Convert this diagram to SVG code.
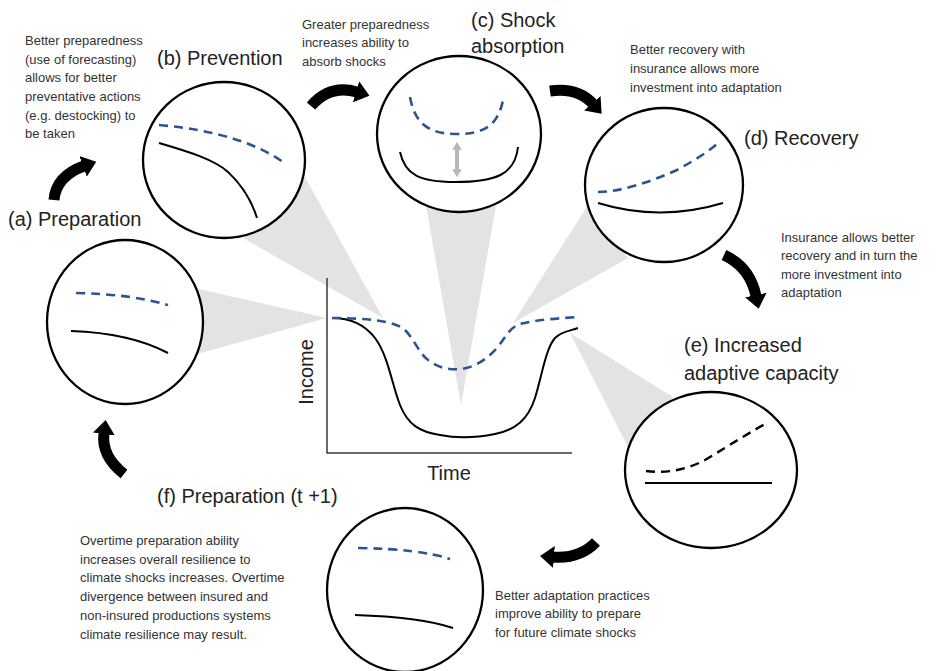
<svg xmlns="http://www.w3.org/2000/svg" width="938" height="671" viewBox="0 0 938 671">
<defs>
<style>
.bg{fill:#ffffff}
.wedge{fill:#e3e3e3;stroke:none}
.circ{fill:#ffffff;stroke:#000;stroke-width:2.3}
.solid{fill:none;stroke:#000;stroke-width:2}
.dash{fill:none;stroke:#2a5592;stroke-width:2.6;stroke-dasharray:9 6}
.dashk{fill:none;stroke:#000;stroke-width:2.4;stroke-dasharray:9 6}
.axis{fill:none;stroke:#3a3a3a;stroke-width:1.5}
.cflow{fill:none;stroke:#000;stroke-width:11;marker-end:url(#head)}
.title{font-family:"Liberation Sans",Arial,sans-serif;fill:#222;font-size:20px}
.desc{font-family:"Liberation Sans",Arial,sans-serif;fill:#333;font-size:13px}
</style>
<marker id="head" viewBox="0 0 14 22" markerUnits="userSpaceOnUse" markerWidth="14" markerHeight="22" refX="1" refY="11" orient="auto">
<path d="M0,0 L14,11 L0,22 z" fill="#000"/>
</marker>
<marker id="ghead" viewBox="0 0 10 12" markerUnits="userSpaceOnUse" markerWidth="8" markerHeight="10" refX="1" refY="6" orient="auto-start-reverse">
<path d="M0,0 L10,6 L0,12 z" fill="#b8b8b8"/>
</marker>
</defs>
<rect class="bg" x="0" y="0" width="938" height="671"/>

<g id="wedges">
<polygon class="wedge" points="190,287 327,318 190,356"/>
<polygon class="wedge" points="305,177 383,318 243,238"/>
<polygon class="wedge" points="425,200 497,200 461,405"/>
<polygon class="wedge" points="588,205 628,258 513,323"/>
<polygon class="wedge" points="570,333 673,397 628,447"/>
</g>

<g id="chart">
<path class="axis" d="M327,278 L327,453 L572,453"/>
<path class="solid" d="M332,318 C350,318 365,325 375,338 C388,355 392,385 400,405 C408,425 420,432 440,435 C455,438 475,438 495,434 C515,430 528,420 535,398 C542,375 546,348 555,338 C562,331 570,331 578,328"/>
<path class="dash" d="M332,318 C360,318 395,320 405,330 C415,340 418,352 428,360 C438,368 450,370 460,369 C475,368 488,358 497,348 C505,338 510,327 520,324 C535,320 560,318 580,317"/>
<text class="title" x="313" y="372" font-size="19" text-anchor="middle" transform="rotate(-90 313 372)">Income</text>
<text class="title" x="449" y="480" font-size="19" text-anchor="middle">Time</text>
</g>

<g id="node-a">
<ellipse class="circ" cx="125" cy="322" rx="78" ry="82"/>
<path class="dash" d="M76,293 Q130,294 168,305"/>
<path class="solid" d="M71,331 Q130,333 168,353"/>
<text class="title" x="8" y="226">(a) Preparation</text>
</g>

<g id="node-b">
<ellipse class="circ" cx="224" cy="160" rx="81" ry="78"/>
<path class="dash" d="M159,125 Q240,132 283,162"/>
<path class="solid" d="M159,143 C190,152 215,160 228,172 C243,186 252,202 257,218"/>
<text class="title" x="157" y="65">(b) Prevention</text>
<text class="desc"><tspan x="25" y="45">Better preparedness</tspan><tspan x="25" y="64">(use of forecasting)</tspan><tspan x="25" y="82">allows for better</tspan><tspan x="25" y="101">preventative actions</tspan><tspan x="25" y="120">(e.g. destocking) to</tspan><tspan x="25" y="138">be taken</tspan></text>
</g>

<g id="node-c">
<ellipse class="circ" cx="459" cy="134" rx="82" ry="78"/>
<path class="dash" d="M410,97 C415,125 430,134 457,134 C485,134 498,125 503,100"/>
<path class="solid" d="M400,152 C405,175 420,182 455,182 C495,182 515,175 518,147"/>
<line x1="457" y1="149" x2="457" y2="170" stroke="#b8b8b8" stroke-width="4" marker-start="url(#ghead)" marker-end="url(#ghead)"/>
<text class="title" font-size="22"><tspan x="471" y="27">(c) Shock</tspan><tspan x="471" y="53">absorption</tspan></text>
<text class="desc"><tspan x="302" y="29">Greater preparedness</tspan><tspan x="302" y="47">increases ability to</tspan><tspan x="302" y="66">absorb shocks</tspan></text>
</g>

<g id="node-d">
<ellipse class="circ" cx="664" cy="185" rx="79" ry="77"/>
<path class="dash" d="M598,192 C620,192 650,182 677,170 C695,160 708,152 718,143"/>
<path class="solid" d="M598,203 Q660,222 723,203"/>
<text class="title" x="744" y="145">(d) Recovery</text>
<text class="desc"><tspan x="630" y="54">Better recovery with</tspan><tspan x="630" y="73">insurance allows more</tspan><tspan x="630" y="92">investment into adaptation</tspan></text>
<text class="desc"><tspan x="781" y="242">Insurance allows better</tspan><tspan x="781" y="260">recovery and in turn the</tspan><tspan x="781" y="279">more investment into</tspan><tspan x="781" y="297">adaptation</tspan></text>
</g>

<g id="node-e">
<ellipse class="circ" cx="711" cy="470" rx="86" ry="78"/>
<path class="dashk" d="M646,471 C670,474 690,468 705,460 C730,445 750,432 767,423"/>
<path class="solid" d="M645,483 L772,483" stroke-width="2.4"/>
<text class="title" font-size="21.5"><tspan x="684" y="352">(e) Increased</tspan><tspan x="684" y="380">adaptive capacity</tspan></text>
</g>

<g id="node-f">
<ellipse class="circ" cx="405" cy="590" rx="78" ry="82"/>
<path class="dash" d="M358,548 Q420,549 450,559"/>
<path class="solid" d="M355,615 Q420,617 453,628"/>
<text class="title" x="157" y="503">(f) Preparation (t +1)</text>
<text class="desc"><tspan x="80" y="545">Overtime preparation ability</tspan><tspan x="80" y="564">increases overall resilience to</tspan><tspan x="80" y="582">climate shocks increases. Overtime</tspan><tspan x="80" y="601">divergence between insured and</tspan><tspan x="80" y="620">non-insured productions systems</tspan><tspan x="80" y="639">climate resilience may result.</tspan></text>
<text class="desc"><tspan x="495" y="600">Better adaptation practices</tspan><tspan x="495" y="618">improve ability to prepare</tspan><tspan x="495" y="637">for future climate shocks</tspan></text>
</g>

<g id="connectors">
<path class="cflow" d="M54,200 Q56,176 84,166"/>
<path class="cflow" d="M311,106 Q330,84 357,92"/>
<path class="cflow" d="M550,91 Q578,87 593,104"/>
<path class="cflow" d="M724,255 Q750,267 756,296"/>
<path class="cflow" d="M596,542 Q580,559 553,557"/>
<path class="cflow" d="M124,474 Q101,456 104,433"/>
</g>
</svg>
